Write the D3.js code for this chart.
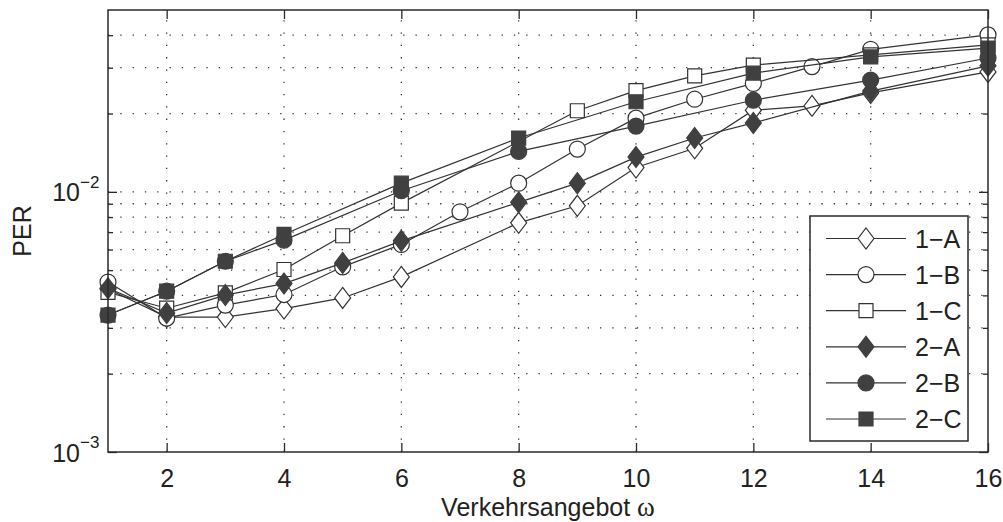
<!DOCTYPE html>
<html>
<head>
<meta charset="utf-8">
<script src="https://cdn.jsdelivr.net/npm/d3@7"></script>
<style>
  html, body { margin: 0; padding: 0; background: #fff; }
  svg { display: block; }
  text { font-family: "Liberation Sans", Arial, sans-serif; fill: #222; }
</style>
</head>
<body>
<svg id="chart" width="1003" height="522"></svg>
<script>
// Offered load (x) for each series and the measured packet error rate
const x1A = [1, 2, 3, 4, 5, 6, 8, 9, 10, 11, 12, 13, 14, 16];
const per1A = [4.23e-3, 3.30e-3, 3.30e-3, 3.56e-3, 3.91e-3, 4.71e-3, 7.60e-3, 8.84e-3, 1.24e-2, 1.47e-2, 2.06e-2, 2.14e-2, 2.40e-2, 2.89e-2];

const x1B = [1, 2, 3, 4, 5, 6, 7, 8, 9, 10, 11, 12, 13, 14, 16];
const per1B = [4.50e-3, 3.27e-3, 3.67e-3, 4.03e-3, 5.15e-3, 6.28e-3, 8.38e-3, 1.08e-2, 1.46e-2, 1.92e-2, 2.27e-2, 2.61e-2, 3.03e-2, 3.53e-2, 4.01e-2];

const x1C = [1, 2, 3, 4, 5, 6, 9, 10, 11, 12, 14, 16];
const per1C = [4.11e-3, 3.57e-3, 4.09e-3, 5.03e-3, 6.78e-3, 9.05e-3, 2.05e-2, 2.45e-2, 2.79e-2, 3.07e-2, 3.36e-2, 3.67e-2];

const x2A = [1, 2, 3, 4, 5, 6, 8, 9, 10, 11, 12, 14, 16];
const per2A = [4.26e-3, 3.42e-3, 4.01e-3, 4.44e-3, 5.33e-3, 6.48e-3, 9.11e-3, 1.08e-2, 1.36e-2, 1.61e-2, 1.84e-2, 2.44e-2, 3.05e-2];

const x2B = [1, 2, 3, 4, 6, 8, 10, 12, 14, 16];
const per2B = [3.36e-3, 4.15e-3, 5.41e-3, 6.52e-3, 1.01e-2, 1.43e-2, 1.79e-2, 2.25e-2, 2.69e-2, 3.27e-2];

const x2C = [1, 2, 3, 4, 6, 8, 10, 12, 14, 16];
const per2C = [3.36e-3, 4.15e-3, 5.41e-3, 6.86e-3, 1.08e-2, 1.61e-2, 2.22e-2, 2.86e-2, 3.30e-2, 3.57e-2];

const seriesNames = ["1\u2212A", "1\u2212B", "1\u2212C", "2\u2212A", "2\u2212B", "2\u2212C"];
const xTicks = [2, 4, 6, 8, 10, 12, 14, 16];
const yMajorTicks = [1e-3, 1e-2];
const yMinorTicks = [2e-3, 3e-3, 4e-3, 5e-3, 6e-3, 7e-3, 8e-3, 9e-3, 2e-2, 3e-2, 4e-2];
const yTickExponents = ["\u22123", "\u22122"];
const xLabel = "Verkehrsangebot ";
const yLabel = "PER";

const series = [
  { name: seriesNames[0], xs: x1A, ys: per1A, shape: "diamond", filled: false },
  { name: seriesNames[1], xs: x1B, ys: per1B, shape: "circle", filled: false },
  { name: seriesNames[2], xs: x1C, ys: per1C, shape: "square", filled: false },
  { name: seriesNames[3], xs: x2A, ys: per2A, shape: "diamond", filled: true },
  { name: seriesNames[4], xs: x2B, ys: per2B, shape: "circle", filled: true },
  { name: seriesNames[5], xs: x2C, ys: per2C, shape: "square", filled: true }
];

const svg = d3.select("#chart");
const L = 108, R = 988, T = 10, B = 452;
const ink = "#2a2a2a";
const fillDark = "#404040";

const x = d3.scaleLinear().domain([1, 16]).range([L, R]);
const y = d3.scaleLog().domain([1e-3, 5e-2]).range([B, T]);

// dotted grid
const grid = svg.append("g").attr("stroke", "#333").attr("stroke-width", 1.3)
  .attr("stroke-dasharray", "1.3 11").attr("fill", "none");
grid.selectAll("line.gy").data(yMajorTicks.concat(yMinorTicks).filter(v => v > 1e-3))
  .join("line").attr("x1", L).attr("x2", R)
  .attr("y1", d => y(d)).attr("y2", d => y(d));
grid.selectAll("line.gx").data(xTicks.filter(v => v < 16))
  .join("line").attr("y1", B).attr("y2", T)
  .attr("x1", d => x(d)).attr("x2", d => x(d));

// axes with inward ticks on all four sides
const axisStyle = g => {
  g.select(".domain").remove();
  g.selectAll(".tick line").attr("stroke", ink).attr("stroke-width", 1.3);
};
svg.append("g").attr("transform", `translate(0,${B})`)
  .call(d3.axisBottom(x).tickValues(xTicks).tickSize(-9).tickPadding(17).tickFormat(d3.format("d")))
  .call(axisStyle)
  .call(g => g.selectAll(".tick text").attr("font-size", 25).attr("fill", "#222")
    .attr("font-family", "Liberation Sans, Arial, sans-serif"));
svg.append("g").attr("transform", `translate(0,${T})`)
  .call(d3.axisTop(x).tickValues(xTicks).tickSize(-9).tickFormat(""))
  .call(axisStyle);
[[L, d3.axisLeft], [R, d3.axisRight]].forEach(([pos, ax]) => {
  svg.append("g").attr("transform", `translate(${pos},0)`)
    .call(ax(y).tickValues(yMajorTicks).tickSize(-9).tickFormat(""))
    .call(axisStyle);
  svg.append("g").attr("transform", `translate(${pos},0)`)
    .call(ax(y).tickValues(yMinorTicks).tickSize(-5).tickFormat(""))
    .call(axisStyle);
});

// power-of-ten tick labels
const yl = svg.append("g");
yMajorTicks.forEach((v, i) => {
  yl.append("text").attr("x", 80).attr("y", y(v) + 9.5)
    .attr("text-anchor", "end").attr("font-size", 25).text("10");
  yl.append("text").attr("x", 80).attr("y", y(v) - 4)
    .attr("font-size", 17).text(yTickExponents[i]);
});

// series lines and markers
const line = d3.line().x(d => x(d[0])).y(d => y(d[1]));
function markerPath(shape) {
  if (shape === "diamond") return "M0,-10.5L8,0L0,10.5L-8,0Z";
  if (shape === "square") return "M-7,-7H7V7H-7Z";
  return d3.symbol(d3.symbolCircle, Math.PI * 8 * 8)();
}
function drawMarker(g, s, cx, cy) {
  g.append("path").attr("d", markerPath(s.shape))
    .attr("transform", `translate(${cx},${cy})`)
    .attr("fill", s.filled ? fillDark : "#fff")
    .attr("stroke", s.filled ? fillDark : "#333")
    .attr("stroke-width", 1.2);
}
const plot = svg.append("g");
series.forEach(s => {
  const pts = s.xs.map((xv, i) => [xv, s.ys[i]]);
  plot.append("path").attr("d", line(pts)).attr("fill", "none")
    .attr("stroke", "#333").attr("stroke-width", 1.2);
  pts.forEach(p => drawMarker(plot, s, x(p[0]), y(p[1])));
});

// frame
svg.append("rect").attr("x", L).attr("y", T).attr("width", R - L).attr("height", B - T)
  .attr("fill", "none").attr("stroke", ink).attr("stroke-width", 1.5);

// axis titles
svg.append("text").attr("x", (L + R) / 2).attr("y", 516).attr("text-anchor", "middle")
  .attr("font-size", 25).text(xLabel)
  .append("tspan").attr("font-family", "Liberation Serif, Times New Roman, serif")
  .attr("font-size", 27).text("\u03c9");
svg.append("text").attr("transform", `translate(31,${(T + B) / 2}) rotate(-90)`)
  .attr("text-anchor", "middle").attr("font-size", 25).text(yLabel);

// legend
const lg = svg.append("g");
lg.append("rect").attr("x", 810).attr("y", 216).attr("width", 158).attr("height", 225)
  .attr("fill", "#fff").attr("stroke", ink).attr("stroke-width", 1.5);
series.forEach((s, i) => {
  const cy = 238.5 + i * 36.1;
  lg.append("line").attr("x1", 826).attr("x2", 906).attr("y1", cy).attr("y2", cy)
    .attr("stroke", "#333").attr("stroke-width", 1.2);
  drawMarker(lg, s, 866, cy);
  lg.append("text").attr("x", 915).attr("y", cy + 9).attr("font-size", 25).text(s.name);
});
</script>
</body>
</html>
